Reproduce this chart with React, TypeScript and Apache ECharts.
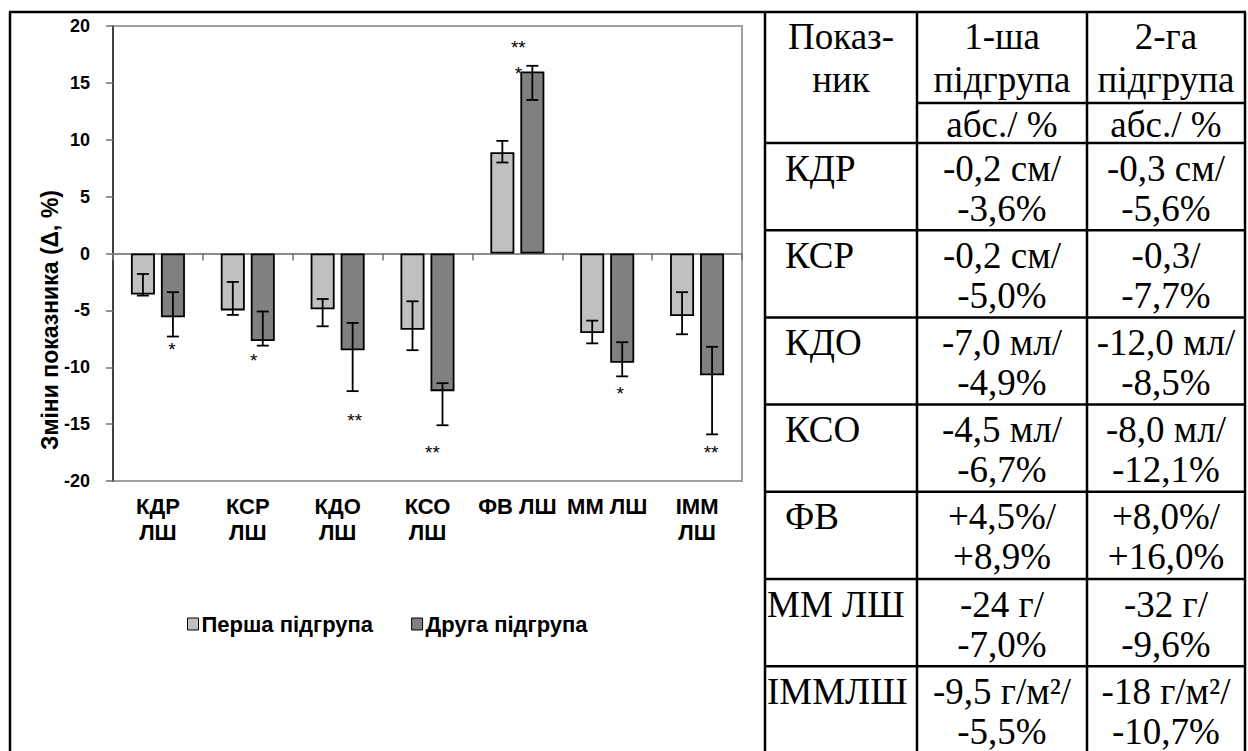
import React, { useEffect, useRef } from 'react';
import * as echarts from 'echarts';

// ---------- chart data ----------
const categories = ['КДР\nЛШ', 'КСР\nЛШ', 'КДО\nЛШ', 'КСО\nЛШ', 'ФВ ЛШ', 'ММ ЛШ', 'ІММ\nЛШ'];
const seriesNames = ['Перша підгрупа', 'Друга підгрупа'];
const group1 = [-3.6, -5.0, -4.9, -6.7, 8.9, -7.0, -5.5];
const group2 = [-5.6, -7.7, -8.5, -12.1, 16.0, -9.6, -10.7];
const group1ErrHigh = [-1.8, -2.5, -4.0, -4.2, 9.9, -5.9, -3.4];
const group1ErrLow = [-3.7, -5.4, -6.4, -8.5, 8.0, -7.9, -7.1];
const group2ErrHigh = [-3.4, -5.1, -6.1, -11.4, 16.5, -7.8, -8.2];
const group2ErrLow = [-7.3, -8.1, -12.1, -15.1, 13.5, -10.8, -15.9];
// significance marks (second subgroup)
const sigCategory = [0, 1, 2, 3, 4, 4, 5, 6];
const sigValue = [-8.4, -9.4, -14.7, -17.5, 18.1, 15.8, -12.3, -17.5];
const sigText = ['*', '*', '**', '**', '**', '*', '*', '**'];
const yAxisName = 'Зміни показника (Δ, %)';

// ---------- table data ----------
const headCol1 = ['Показ-', 'ник'];
const headCol2 = ['1-ша', 'підгрупа', 'абс./ %'];
const headCol3 = ['2-га', 'підгрупа', 'абс./ %'];
const indicators = ['КДР', 'КСР', 'КДО', 'КСО', 'ФВ', 'ММ ЛШ', 'ІММЛШ'];
const g1Abs = ['-0,2 см/', '-0,2 см/', '-7,0 мл/', '-4,5 мл/', '+4,5%/', '-24 г/', '-9,5 г/м²/'];
const g1Pct = ['-3,6%', '-5,0%', '-4,9%', '-6,7%', '+8,9%', '-7,0%', '-5,5%'];
const g2Abs = ['-0,3 см/', '-0,3/', '-12,0 мл/', '-8,0 мл/', '+8,0%/', '-32 г/', '-18 г/м²/'];
const g2Pct = ['-5,6%', '-7,7%', '-8,5%', '-12,1%', '+16,0%', '-9,6%', '-10,7%'];

const SANS = 'Liberation Sans';
const SERIF = 'Liberation Serif';
const BAR_OFFSET = 15;
const sigShift = [-1, -9, 2, -10, -14, -14, -2, -1];

function buildTable() {
  const els: any[] = [];
  const colX = [765, 917, 1087, 1245];
  const top = 12;
  const headBottom = 143;
  const rowH = 87.2;
  const lineStyle = { stroke: '#000', lineWidth: 2.5 };
  const serifText = (text: string, x: number, y: number, align: string) => ({
    type: 'text',
    x,
    y,
    style: {
      text,
      fontFamily: SERIF,
      fontSize: 37,
      lineHeight: 34,
      fill: '#000',
      align,
      verticalAlign: 'middle',
      textAlign: align,
      textVerticalAlign: 'middle',
    },
  });
  // chart frame
  els.push({ type: 'line', shape: { x1: 10, y1: top, x2: 10, y2: 760 }, style: lineStyle });
  els.push({ type: 'line', shape: { x1: 9, y1: top, x2: colX[3] + 1, y2: top }, style: lineStyle });
  // verticals
  colX.forEach((x) => els.push({ type: 'line', shape: { x1: x, y1: top, x2: x, y2: 760 }, style: lineStyle }));
  // sub-header line
  els.push({ type: 'line', shape: { x1: colX[1], y1: 103, x2: colX[3], y2: 103 }, style: lineStyle });
  // row lines
  for (let i = 0; i <= indicators.length; i++) {
    const y = headBottom + i * rowH;
    els.push({ type: 'line', shape: { x1: colX[0], y1: y, x2: colX[3], y2: y }, style: lineStyle });
  }
  const c1 = (colX[0] + colX[1]) / 2;
  const c2 = (colX[1] + colX[2]) / 2;
  const c3 = (colX[2] + colX[3]) / 2;
  const headY = [36, 79, 124];
  headCol1.forEach((t, i) => els.push(serifText(t, c1, headY[i], 'center')));
  headCol2.forEach((t, i) => els.push(serifText(t, c2, headY[i], 'center')));
  headCol3.forEach((t, i) => els.push(serifText(t, c3, headY[i], 'center')));
  indicators.forEach((t, i) => {
    const y0 = headBottom + i * rowH;
    const lx = t.length > 4 ? colX[0] + 2 : colX[0] + 20;
    els.push(serifText(t, lx, y0 + 25, 'left'));
    els.push(serifText(g1Abs[i], c2, y0 + 25, 'center'));
    els.push(serifText(g1Pct[i], c2, y0 + 65, 'center'));
    els.push(serifText(g2Abs[i], c3, y0 + 25, 'center'));
    els.push(serifText(g2Pct[i], c3, y0 + 65, 'center'));
  });
  // y axis name
  els.push({
    type: 'text',
    x: 50,
    y: 320,
    rotation: Math.PI / 2,
    style: {
      text: yAxisName,
      fontFamily: SANS,
      fontWeight: 'bold',
      fontSize: 23,
      fill: '#000',
      align: 'center',
      verticalAlign: 'middle',
      textAlign: 'center',
      textVerticalAlign: 'middle',
    },
  });
  return els;
}

function errorSeries(low: number[], high: number[], offset: number) {
  return {
    type: 'custom',
    xAxisIndex: 0,
    yAxisIndex: 0,
    z: 5,
    silent: true,
    data: low.map((l, i) => [i, l, high[i]]),
    encode: { x: 0, y: [1, 2] },
    renderItem: (params: any, api: any) => {
      const c = api.value(0);
      const pHi = api.coord([c, api.value(2)]);
      const pLo = api.coord([c, api.value(1)]);
      const x = pHi[0] + offset;
      const st = { stroke: '#000', lineWidth: 1.8 };
      return {
        type: 'group',
        children: [
          { type: 'line', shape: { x1: x, y1: pHi[1], x2: x, y2: pLo[1] }, style: st },
          { type: 'line', shape: { x1: x - 6, y1: pHi[1], x2: x + 6, y2: pHi[1] }, style: st },
          { type: 'line', shape: { x1: x - 6, y1: pLo[1], x2: x + 6, y2: pLo[1] }, style: st },
        ],
      };
    },
  };
}

export default function App() {
  const ref = useRef<HTMLDivElement>(null);
  useEffect(() => {
    document.body.style.margin = '0';
    const chart = echarts.init(ref.current as HTMLDivElement, null, { renderer: 'svg' });
    const option: any = {
      animation: false,
      backgroundColor: '#fff',
      grid: {
        left: 113,
        right: 1248 - 742,
        top: 26,
        bottom: 751 - 481,
        show: true,
        borderColor: '#a0a0a0',
        borderWidth: 2,
        backgroundColor: 'transparent',
      },
      legend: {
        left: 182,
        top: 608,
        itemGap: 38,
        itemWidth: 11,
        itemHeight: 12,
        icon: 'rect',
        itemStyle: { borderColor: '#000', borderWidth: 1 },
        textStyle: { fontFamily: SANS, fontWeight: 'bold', fontSize: 22, color: '#000', padding: [0, 0, 0, -2] },
        data: seriesNames,
      },
      xAxis: [
        {
          type: 'category',
          data: categories,
          position: 'bottom',
          axisLine: { show: false, onZero: false },
          axisTick: { show: false },
          axisLabel: {
            margin: 12,
            fontFamily: SANS,
            fontWeight: 'bold',
            fontSize: 22,
            lineHeight: 26,
            color: '#000',
            interval: 0,
          },
        },
        {
          type: 'category',
          data: categories,
          position: 'bottom',
          axisLine: { show: true, onZero: true, lineStyle: { color: '#8c8c8c', width: 2 } },
          axisTick: { show: true, length: 7, lineStyle: { color: '#707070', width: 1.5 } },
          axisLabel: { show: false },
        },
      ],
      yAxis: {
        type: 'value',
        min: -20,
        max: 20,
        interval: 5,
        splitLine: { show: false },
        axisLine: { show: true, lineStyle: { color: '#222', width: 1.5 } },
        axisTick: { show: true, length: 7, lineStyle: { color: '#707070', width: 1.5 } },
        axisLabel: {
          margin: 23,
          fontFamily: SANS,
          fontWeight: 'bold',
          fontSize: 18,
          color: '#000',
        },
      },
      graphic: { elements: buildTable() },
      series: [
        {
          name: seriesNames[0],
          type: 'bar',
          data: group1,
          barWidth: 24,
          barGap: '25%',
          z: 2,
          itemStyle: { color: '#c0c0c0', borderColor: '#000', borderWidth: 1.8 },
        },
        {
          name: seriesNames[1],
          type: 'bar',
          data: group2,
          barWidth: 24,
          barGap: '25%',
          z: 2,
          itemStyle: { color: '#808080', borderColor: '#000', borderWidth: 1.8 },
        },
        errorSeries(group1ErrLow, group1ErrHigh, -BAR_OFFSET),
        errorSeries(group2ErrLow, group2ErrHigh, BAR_OFFSET),
        {
          type: 'custom',
          z: 1,
          silent: true,
          data: sigCategory.map((c, i) => [c, sigValue[i], i]),
          encode: { x: 0, y: 1 },
          renderItem: (params: any, api: any) => {
            const idx = api.value(2);
            const p = api.coord([api.value(0), api.value(1)]);
            return {
              type: 'text',
              x: p[0] + BAR_OFFSET + sigShift[idx],
              y: p[1],
              style: {
                text: sigText[idx],
                fontFamily: SANS,
                fontSize: 19,
                fill: '#000',
                align: 'center',
                verticalAlign: 'middle',
                textAlign: 'center',
                textVerticalAlign: 'middle',
              },
            };
          },
        },
      ],
    };
    chart.setOption(option);
    return () => chart.dispose();
  }, []);
  return <div ref={ref} style={{ width: 1248, height: 751 }} />;
}
